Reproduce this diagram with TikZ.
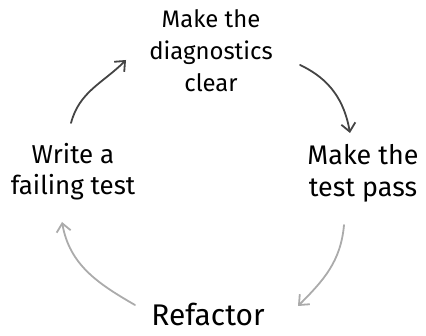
\documentclass[tikz,border=0pt]{standalone}
\usepackage{fontspec}
\setmainfont{Fira Sans}
\usetikzlibrary{arrows.meta, positioning, calc}
\definecolor{inkdark}{HTML}{444444}
\definecolor{inkgray}{HTML}{ABABAB}
\tikzset{
  >={Straight Barb[length=2.9mm,width=5mm]},
  stagebox/.style={align=center, text=black, inner sep=0pt,
                   font=\fontsize{24}{32}\selectfont},
  darkflow/.style={->, line width=1.8pt, draw=inkdark, line cap=round},
  grayflow/.style={->, line width=1.8pt, draw=inkgray, line cap=round},
}
\begin{document}
\begin{tikzpicture}[x=1bp, y=1bp]
\useasboundingbox (0,0) rectangle (426,336);

% ---- the four stages of the cycle ----
\node[stagebox] (diag) at (211,285) {Make the\\diagnostics\\clear};
\node[stagebox, font=\fontsize{27}{32}\selectfont] (pass) at (363,163) {Make the\\test pass};
\node[stagebox, font=\fontsize{26}{31}\selectfont] (write) at (73,164) {Write a\\failing test};
\node[stagebox, font=\fontsize{30}{32}\selectfont] (refac) at (208,22) {Refactor};

% ---- arrow ends, set off from the stages ----
\coordinate (w1) at ($(write)+(-2,49)$);
\coordinate (d1) at ($(diag)+(-85,-9)$);
\coordinate (d2) at ($(diag)+(89,-14)$);
\coordinate (p1) at ($(pass)+(-13,40)$);
\coordinate (p2) at ($(pass)+(-19,-52)$);
\coordinate (r1) at ($(refac)+(90,8)$);
\coordinate (r2) at ($(refac)+(-73,9)$);
\coordinate (w2) at ($(write)+(-11,-50)$);

% ---- dark half: write -> diagnostics -> pass ----
\draw[darkflow] (w1) to[out=75, in=225] (d1);
\draw[darkflow] (d2) to[out=-25, in=100] (p1);

% ---- gray half: pass -> refactor -> write ----
\draw[grayflow] (p2) to[out=-95, in=45] (r1);
\draw[grayflow] (r2) to[out=150, in=-80] (w2);

\end{tikzpicture}
\end{document}
